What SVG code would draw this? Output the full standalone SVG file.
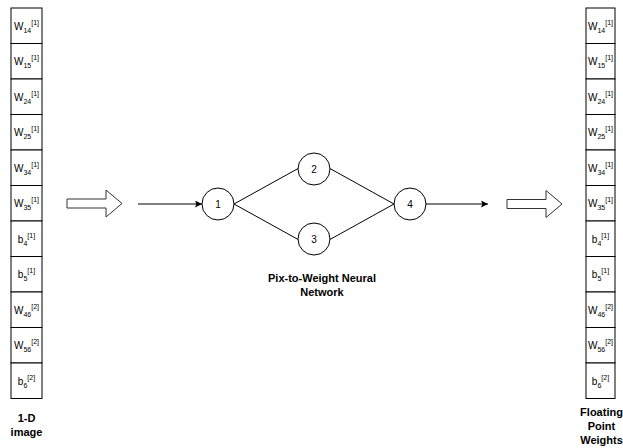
<svg xmlns="http://www.w3.org/2000/svg" width="623" height="448" viewBox="0 0 623 448">
  <style>
    .cell { fill: #fff; stroke: #000; stroke-width: 1; }
    .ct { font-family: "Liberation Sans", Arial, sans-serif; font-size: 10px; fill: #000; text-anchor: middle; }
    .sm { font-size: 7px; }
    .node { fill: #fff; stroke: #000; stroke-width: 1; }
    .nt { font-family: "Liberation Sans", Arial, sans-serif; font-size: 10px; fill: #000; text-anchor: middle; }
    .lbl { font-family: "Liberation Sans", Arial, sans-serif; font-size: 11px; font-weight: bold; fill: #000; text-anchor: middle; }
    .edge { fill: none; stroke: #000; stroke-width: 1; }
    .blk { fill: #fff; stroke: #333; stroke-width: 1; }
  </style>
  <defs>
    <marker id="arrow" viewBox="0 0 10 10" refX="10" refY="5" markerWidth="7" markerHeight="7" markerUnits="userSpaceOnUse" orient="auto">
      <path d="M0,0 L10,5 L0,10 L2,5 Z" fill="#000"/>
    </marker>
  </defs>

  <!-- input vector -->
  <g id="input-vector">
    <rect class="cell" x="11" y="8" width="31" height="35.5"/>
    <rect class="cell" x="11" y="43.5" width="31" height="35.5"/>
    <rect class="cell" x="11" y="79" width="31" height="35.5"/>
    <rect class="cell" x="11" y="114.5" width="31" height="35.5"/>
    <rect class="cell" x="11" y="150" width="31" height="35.5"/>
    <rect class="cell" x="11" y="185.5" width="31" height="35.5"/>
    <rect class="cell" x="11" y="221" width="31" height="35.5"/>
    <rect class="cell" x="11" y="256.5" width="31" height="35.5"/>
    <rect class="cell" x="11" y="292" width="31" height="35.5"/>
    <rect class="cell" x="11" y="327.5" width="31" height="35.5"/>
    <rect class="cell" x="11" y="363" width="31" height="35.5"/>
    <text class="ct" x="26.5" y="29.5">W<tspan class="sm" dy="3">14</tspan><tspan class="sm" dy="-8">[1]</tspan></text>
    <text class="ct" x="26.5" y="65">W<tspan class="sm" dy="3">15</tspan><tspan class="sm" dy="-8">[1]</tspan></text>
    <text class="ct" x="26.5" y="100.5">W<tspan class="sm" dy="3">24</tspan><tspan class="sm" dy="-8">[1]</tspan></text>
    <text class="ct" x="26.5" y="136">W<tspan class="sm" dy="3">25</tspan><tspan class="sm" dy="-8">[1]</tspan></text>
    <text class="ct" x="26.5" y="171.5">W<tspan class="sm" dy="3">34</tspan><tspan class="sm" dy="-8">[1]</tspan></text>
    <text class="ct" x="26.5" y="207">W<tspan class="sm" dy="3">35</tspan><tspan class="sm" dy="-8">[1]</tspan></text>
    <text class="ct" x="26.5" y="242.5">b<tspan class="sm" dy="3">4</tspan><tspan class="sm" dy="-8">[1]</tspan></text>
    <text class="ct" x="26.5" y="278">b<tspan class="sm" dy="3">5</tspan><tspan class="sm" dy="-8">[1]</tspan></text>
    <text class="ct" x="26.5" y="313.5">W<tspan class="sm" dy="3">46</tspan><tspan class="sm" dy="-8">[2]</tspan></text>
    <text class="ct" x="26.5" y="349">W<tspan class="sm" dy="3">56</tspan><tspan class="sm" dy="-8">[2]</tspan></text>
    <text class="ct" x="26.5" y="384.5">b<tspan class="sm" dy="3">6</tspan><tspan class="sm" dy="-8">[2]</tspan></text>
  </g>
  <g id="input-label">
    <text class="lbl" x="26.5" y="422">1-D</text>
    <text class="lbl" x="26.5" y="436">image</text>
  </g>

  <!-- output vector -->
  <g id="output-vector">
    <rect class="cell" x="586" y="8" width="29" height="35.5"/>
    <rect class="cell" x="586" y="43.5" width="29" height="35.5"/>
    <rect class="cell" x="586" y="79" width="29" height="35.5"/>
    <rect class="cell" x="586" y="114.5" width="29" height="35.5"/>
    <rect class="cell" x="586" y="150" width="29" height="35.5"/>
    <rect class="cell" x="586" y="185.5" width="29" height="35.5"/>
    <rect class="cell" x="586" y="221" width="29" height="35.5"/>
    <rect class="cell" x="586" y="256.5" width="29" height="35.5"/>
    <rect class="cell" x="586" y="292" width="29" height="35.5"/>
    <rect class="cell" x="586" y="327.5" width="29" height="35.5"/>
    <rect class="cell" x="586" y="363" width="29" height="35.5"/>
    <text class="ct" x="600.5" y="29.5">W<tspan class="sm" dy="3">14</tspan><tspan class="sm" dy="-8">[1]</tspan></text>
    <text class="ct" x="600.5" y="65">W<tspan class="sm" dy="3">15</tspan><tspan class="sm" dy="-8">[1]</tspan></text>
    <text class="ct" x="600.5" y="100.5">W<tspan class="sm" dy="3">24</tspan><tspan class="sm" dy="-8">[1]</tspan></text>
    <text class="ct" x="600.5" y="136">W<tspan class="sm" dy="3">25</tspan><tspan class="sm" dy="-8">[1]</tspan></text>
    <text class="ct" x="600.5" y="171.5">W<tspan class="sm" dy="3">34</tspan><tspan class="sm" dy="-8">[1]</tspan></text>
    <text class="ct" x="600.5" y="207">W<tspan class="sm" dy="3">35</tspan><tspan class="sm" dy="-8">[1]</tspan></text>
    <text class="ct" x="600.5" y="242.5">b<tspan class="sm" dy="3">4</tspan><tspan class="sm" dy="-8">[1]</tspan></text>
    <text class="ct" x="600.5" y="278">b<tspan class="sm" dy="3">5</tspan><tspan class="sm" dy="-8">[1]</tspan></text>
    <text class="ct" x="600.5" y="313.5">W<tspan class="sm" dy="3">46</tspan><tspan class="sm" dy="-8">[2]</tspan></text>
    <text class="ct" x="600.5" y="349">W<tspan class="sm" dy="3">56</tspan><tspan class="sm" dy="-8">[2]</tspan></text>
    <text class="ct" x="600.5" y="384.5">b<tspan class="sm" dy="3">6</tspan><tspan class="sm" dy="-8">[2]</tspan></text>
  </g>
  <g id="output-label">
    <text class="lbl" x="601.5" y="416">Floating</text>
    <text class="lbl" x="601.5" y="430">Point</text>
    <text class="lbl" x="601.5" y="444">Weights</text>
  </g>

  <!-- block arrows -->
  <g id="block-arrow-in">
    <path class="blk" d="M67,199 L106,199 L106,190 L122,203.5 L106,217 L106,208 L67,208 Z"/>
  </g>
  <g id="block-arrow-out">
    <path class="blk" d="M507,199.5 L546,199.5 L546,190.5 L562,204 L546,217.5 L546,208.5 L507,208.5 Z"/>
  </g>

  <!-- connectors -->
  <g id="connectors">
    <line class="edge" x1="138" y1="204" x2="202" y2="204" marker-end="url(#arrow)"/>
    <line class="edge" x1="234" y1="204" x2="299" y2="168"/>
    <line class="edge" x1="234" y1="204" x2="299" y2="240"/>
    <line class="edge" x1="329" y1="168" x2="394" y2="204"/>
    <line class="edge" x1="329" y1="240" x2="394" y2="204"/>
    <line class="edge" x1="426" y1="204" x2="488" y2="204" marker-end="url(#arrow)"/>
  </g>

  <!-- network nodes -->
  <g id="node-1">
    <circle class="node" cx="218" cy="204" r="16"/>
    <text class="nt" x="218" y="207.5">1</text>
  </g>
  <g id="node-2">
    <circle class="node" cx="314" cy="169" r="16"/>
    <text class="nt" x="314" y="172.5">2</text>
  </g>
  <g id="node-3">
    <circle class="node" cx="314" cy="239" r="16"/>
    <text class="nt" x="314" y="242.5">3</text>
  </g>
  <g id="node-4">
    <circle class="node" cx="410" cy="204" r="16"/>
    <text class="nt" x="410" y="207.5">4</text>
  </g>
  <g id="network-label">
    <text class="lbl" x="322" y="282">Pix-to-Weight Neural</text>
    <text class="lbl" x="322" y="296">Network</text>
  </g>
</svg>
